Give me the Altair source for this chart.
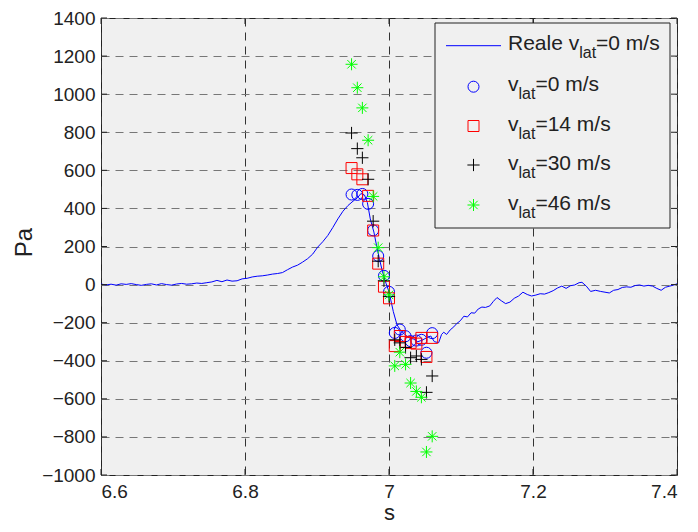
import altair as alt
import pandas as pd

# ---------------- data ----------------
line_x = [6.600, 6.607, 6.614, 6.621, 6.628, 6.635, 6.642, 6.649, 6.656, 6.663, 6.670, 6.677,
          6.684, 6.691, 6.698, 6.705, 6.712, 6.719, 6.726, 6.733, 6.740, 6.747, 6.754, 6.761,
          6.768, 6.775, 6.782, 6.789, 6.796, 6.803, 6.810, 6.817, 6.824, 6.831, 6.838, 6.845,
          6.852, 6.859, 6.866, 6.873, 6.880, 6.887, 6.894, 6.901, 6.908, 6.915, 6.922, 6.929,
          6.936, 6.943, 6.950, 6.956, 6.961, 6.966, 6.970, 6.974, 6.979, 6.983, 6.987, 6.991,
          6.996, 7.000, 7.006, 7.011, 7.016, 7.022, 7.028, 7.034, 7.040, 7.046, 7.052, 7.058,
          7.063, 7.069, 7.073, 7.076, 7.080, 7.085, 7.090, 7.094, 7.099, 7.104, 7.109, 7.114,
          7.119, 7.124, 7.129, 7.134, 7.140, 7.145, 7.150, 7.156, 7.162, 7.168, 7.174, 7.180,
          7.186, 7.192, 7.198, 7.204, 7.210, 7.216, 7.222, 7.228, 7.234, 7.240, 7.246, 7.252,
          7.258, 7.264, 7.268, 7.274, 7.280, 7.287, 7.294, 7.300, 7.306, 7.312, 7.318, 7.324,
          7.330, 7.336, 7.342, 7.348, 7.354, 7.360, 7.366, 7.372, 7.378, 7.384, 7.390, 7.395,
          7.400]
line_y = [3, -2, 2, -3, 4, 1, 5, 0, -4, 1, 4, -2,
          5, 0, -3, 3, 6, 2, 4, 8, 6, 10, 14, 22,
          15, 24, 18, 20, 30, 33, 40, 44, 46, 50, 55, 58,
          63, 78, 92, 102, 118, 136, 160, 197, 225, 258, 300, 345,
          385, 415, 438, 455, 478, 470, 430, 345, 276, 200, 130, 67,
          5, -38, -142, -210, -240, -262, -280, -286, -300, -292, -280, -270,
          -300, -305, -262, -250, -262, -238, -222, -205, -190, -166, -170, -148,
          -150, -128, -118, -120, -112, -88, -68, -85, -100, -92, -72, -60,
          -40, -52, -60, -55, -48, -50, -42, -32, -18, -8, -20, -6,
          -2, 10, 12, -8, -36, -30, -36, -40, -44, -30, -26, -15,
          -12, -14, -5, -2, -8, -4, -8, -20, -30, -14, -8, -3,
          4]

pt_x = [6.948, 6.956, 6.963, 6.971, 6.978, 6.985, 6.993, 7.000,
        7.008, 7.015, 7.023, 7.030, 7.038, 7.045, 7.052, 7.060]
v0 = [473, 471, 476, 424, 285, 150, 46, -38,
      -254, -236, -271, -297, -294, -290, -358, -255]
v14 = [612, 579, 553, 466, 284, 110, -11, -72,
       -323, -270, -301, -306, -310, -280, -380, -280]
v30 = [796, 714, 666, 553, 333, 123, 20, -63,
       -290, -306, -330, -384, -375, -393, -566, -480]
v46 = [1157, 1034, 928, 758, 463, 194, 41, -54,
       -427, -355, -419, -517, -561, -592, -879, -797]

x_ticks = [6.6, 6.8, 7.0, 7.2, 7.4]
y_ticks = [-1000, -800, -600, -400, -200, 0, 200, 400, 600, 800, 1000, 1200, 1400]

legend_main = ["Reale v", "v", "v", "v", "v"]
legend_tail = ["=0 m/s", "=0 m/s", "=14 m/s", "=30 m/s", "=46 m/s"]

# ---------------- style ----------------
W, H = 576, 457
FONT = "Liberation Sans"
TXT = "#222222"
BLUE, RED, BLACK, GREEN = "#0000ff", "#ff0000", "#000000", "#00ff00"
PLUS = "M-1,0L1,0M0,-1L0,1"
STAR = "M-1,0L1,0M0,-1L0,1M-0.7,-0.7L0.7,0.7M-0.7,0.7L0.7,-0.7"

xs = alt.Scale(domain=[6.6, 7.4], nice=False, zero=False)
ys = alt.Scale(domain=[-1000, 1400], nice=False, zero=False)

xaxis = alt.Axis(values=x_ticks, format="~g", title="s", grid=True,
                 gridDash=[8, 6], gridColor="#333333", gridWidth=1,
                 tickSize=0, domain=False, labelPadding=7,
                 labelFont=FONT, labelFontSize=19, labelColor=TXT,
                 titleFont=FONT, titleFontSize=22, titleFontWeight="normal",
                 titleColor=TXT, titleBaseline="alphabetic", titleY=44)
yaxis = alt.Axis(values=y_ticks, format="d", title="Pa", grid=True,
                 gridDash=[8, 6], gridColor="#777777", gridWidth=1,
                 tickSize=0, domain=False, labelPadding=6,
                 labelFont=FONT, labelFontSize=19, labelColor=TXT,
                 titleFont=FONT, titleFontSize=24, titleFontWeight="normal",
                 titleColor=TXT, titleBaseline="alphabetic", titleX=-70, titleY=224,
                 titleAngle=270)


def X():
    return alt.X("x:Q", scale=xs, axis=xaxis)


def Y():
    return alt.Y("y:Q", scale=ys, axis=yaxis)


line_df = pd.DataFrame({"x": line_x, "y": line_y})
line = alt.Chart(line_df).mark_line(color=BLUE, strokeWidth=1, clip=True).encode(
    x=X(), y=Y(), order=alt.Order("x:Q"))


def series(vals, **mk):
    df = pd.DataFrame({"x": pt_x, "y": vals})
    return alt.Chart(df).mark_point(filled=False, strokeWidth=1, opacity=1, clip=True, **mk).encode(
        x=X(), y=Y())


circ = series(v0, shape="circle", size=121, color=BLUE)
sq = series(v14, shape="square", size=121, color=RED)
plus = series(v30, shape=PLUS, size=150, color=BLACK)
star = series(v46, shape=STAR, size=144, color=GREEN)

# inner tick marks (MATLAB style)
ytk = pd.DataFrame({"y": y_ticks})
xtk = pd.DataFrame({"x": x_ticks})
tick_l = alt.Chart(ytk).mark_rule(color=TXT, strokeWidth=1).encode(
    y=Y(), x=alt.value(0), x2=alt.value(6))
tick_r = alt.Chart(ytk).mark_rule(color=TXT, strokeWidth=1).encode(
    y=Y(), x=alt.value(W - 6), x2=alt.value(W))
tick_b = alt.Chart(xtk).mark_rule(color=TXT, strokeWidth=1).encode(
    x=X(), y=alt.value(H - 6), y2=alt.value(H))
tick_t = alt.Chart(xtk).mark_rule(color=TXT, strokeWidth=1).encode(
    x=X(), y=alt.value(0), y2=alt.value(6))

# ---------------- legend (built by hand for the subscripts) ----------------
one = pd.DataFrame({"k": [0]})
BX0, BX1, BY0, BY1 = 334, 569, 5, 210
rows = [27.7, 68.7, 108, 147, 187]
SYMX = 372.5
TX0 = 407
FS, FSUB = 21, 16
W_REALE_V = 3.39 * FS
W_V = 0.5 * FS
W_LAT = 1.056 * FSUB

leg = [alt.Chart(one).mark_rect(fill="#f0f0f0", stroke=TXT, strokeWidth=1).encode(
    x=alt.value(BX0), x2=alt.value(BX1), y=alt.value(BY0), y2=alt.value(BY1))]
leg.append(alt.Chart(one).mark_rule(color=BLUE, strokeWidth=1).encode(
    x=alt.value(345), x2=alt.value(400), y=alt.value(rows[0])))
for r, (shape, size, col) in zip(rows[1:], [("circle", 121, BLUE), ("square", 121, RED),
                                           (PLUS, 150, BLACK), (STAR, 144, GREEN)]):
    leg.append(alt.Chart(one).mark_point(shape=shape, size=size, color=col, filled=False,
                                         strokeWidth=1, opacity=1).encode(
        x=alt.value(SYMX), y=alt.value(r)))

for i, r in enumerate(rows):
    w_main = W_REALE_V if i == 0 else W_V
    leg.append(alt.Chart(one).mark_text(text=legend_main[i], align="left", baseline="alphabetic",
                                        font=FONT, fontSize=FS, color=TXT).encode(
        x=alt.value(TX0), y=alt.value(r + 4.5)))
    leg.append(alt.Chart(one).mark_text(text="lat", align="left", baseline="alphabetic",
                                        font=FONT, fontSize=FSUB, color=TXT).encode(
        x=alt.value(TX0 + w_main), y=alt.value(r + 12.5)))
    leg.append(alt.Chart(one).mark_text(text=legend_tail[i], align="left", baseline="alphabetic",
                                        font=FONT, fontSize=FS, color=TXT).encode(
        x=alt.value(TX0 + w_main + W_LAT), y=alt.value(r + 4.5)))

chart = alt.layer(line, circ, sq, plus, star, tick_l, tick_r, tick_b, tick_t, *leg).properties(
    width=W, height=H,
    autosize=alt.AutoSizeParams(type="none"),
    padding={"left": 93, "top": 10, "right": 13, "bottom": 49},
    background="white",
).configure_view(fill="#f0f0f0", stroke=TXT, strokeWidth=1)

chart.save("out.html", embed_options={"renderer": "svg", "actions": False})
